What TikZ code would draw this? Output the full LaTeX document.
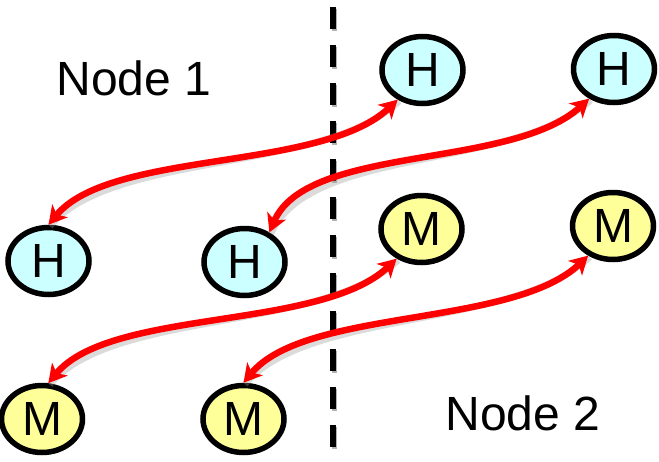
\documentclass[tikz,border=0pt]{standalone}
\usepackage{fontspec}
\setmainfont{Liberation Sans}
\usetikzlibrary{arrows.meta,shapes.geometric}
\definecolor{hfill}{HTML}{CCFFFF}
\definecolor{mfill}{HTML}{FFFF99}
\begin{document}
\begin{tikzpicture}[x=1pt,y=-1pt,
  proc/.style={ellipse,draw=black,line width=5.5pt,minimum width=81pt,minimum height=67pt,inner sep=0pt,font=\fontsize{48}{48}\selectfont},
  hnode/.style={proc,fill=hfill},
  mnode/.style={proc,fill=mfill},
  lbl/.style={font=\fontsize{48}{48}\selectfont,inner sep=0pt},
  link/.style={draw=red,line width=6.5pt,{Stealth[length=18pt,width=20pt,inset=5pt]}-{Stealth[length=18pt,width=20pt,inset=5pt]}},
  shade/.style={draw=black!40,opacity=0.35,line width=6.5pt,transform canvas={shift={(1.5pt,-1.5pt)}}},
  divider/.style={line width=5.5pt,dash pattern=on 22pt off 16pt}
]
\useasboundingbox (0,0) rectangle (659,461);
\fill[white] (0,0) rectangle (659,461);
% divider
\coordinate (dtop) at (333,7);
\coordinate (dbot) at (333,461);
\draw[black!30,line width=5.5pt,dash pattern=on 22pt off 16pt,transform canvas={shift={(1.5pt,-1.5pt)}}] (dtop) -- (dbot);
\draw[divider] (dtop) -- (dbot);
% labels
\node[lbl] (n1) at (134,78) {Node 1};
\node[lbl] (n2) at (523,413) {Node 2};
% nodes
\node[hnode] (h1) at (48.5,261) {H};
\node[hnode] (h2) at (244.5,262) {H};
\node[hnode] (h3) at (422.5,70) {H};
\node[hnode] (h4) at (614,69) {H};
\node[mnode] (m1) at (42,419) {M};
\node[mnode] (m2) at (243.5,419) {M};
\node[mnode] (m3) at (421.5,229) {M};
\node[mnode] (m4) at (613,226) {M};
% shadows
\path[shade] (h1.north) .. controls +(62,-75) and +(-75,72) .. (h3.-130);
\path[shade] (h2.50) .. controls +(38,-88) and +(-77,71) .. (h4.-130);
\path[shade] (m1.80) .. controls +(62,-75) and +(-75,72) .. (m3.-130);
\path[shade] (m2.north) .. controls +(62,-75) and +(-75,72) .. (m4.-130);
% links
\path[link] (h1.north) .. controls +(62,-75) and +(-75,72) .. (h3.-130);
\path[link] (h2.50) .. controls +(38,-88) and +(-77,71) .. (h4.-130);
\path[link] (m1.80) .. controls +(62,-75) and +(-75,72) .. (m3.-130);
\path[link] (m2.north) .. controls +(62,-75) and +(-75,72) .. (m4.-130);
\end{tikzpicture}
\end{document}
